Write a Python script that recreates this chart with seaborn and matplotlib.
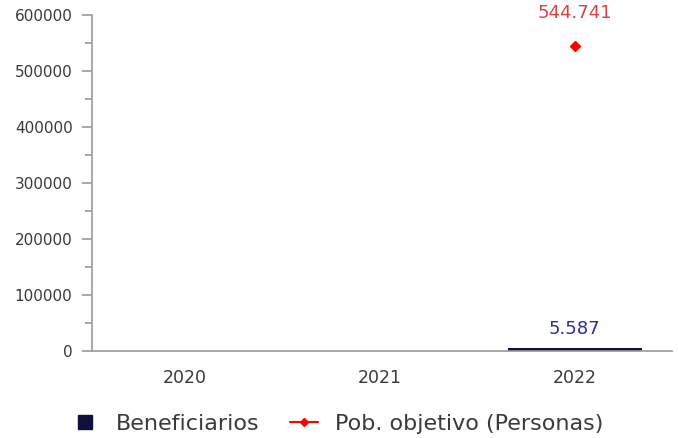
import matplotlib
matplotlib.use("Agg")
import matplotlib.pyplot as plt
import numpy as np
import pandas as pd
import seaborn as sns
from matplotlib.lines import Line2D
from matplotlib.ticker import MultipleLocator

years = ["2020", "2021", "2022"]
beneficiarios = [np.nan, np.nan, 5587]
pob_objetivo = [np.nan, np.nan, 544741]
benef_labels = ["", "", "5.587"]
pob_labels = ["", "", "544.741"]

NAVY = "#10103f"
RED = "#ff0000"
GRAY = "#9a9a9a"

sns.set_style("white")
plt.rcParams["font.family"] = ["DejaVu Sans"]

df = pd.DataFrame({"year": years, "benef": beneficiarios, "pob": pob_objetivo})

fig = plt.figure(figsize=(6.78, 4.38), dpi=100)
ax = fig.add_axes([0.1357, 0.1986, 0.855, 0.767])

sns.barplot(data=df, x="year", y="benef", color=NAVY, width=0.69, ax=ax,
            saturation=1, linewidth=0)
ax.plot(range(len(years)), df["pob"], color=RED, marker="D", markersize=5,
        linestyle="-", linewidth=1.5)

for i, (b, lab) in enumerate(zip(beneficiarios, benef_labels)):
    if lab:
        ax.annotate(lab, (i, b), xytext=(0, 7), textcoords="offset points",
                    ha="center", va="bottom", color="#2b2b9b", fontsize=13)
for i, (p, lab) in enumerate(zip(pob_objetivo, pob_labels)):
    if lab:
        ax.annotate(lab, (i, p), xytext=(0, 17), textcoords="offset points",
                    ha="center", va="bottom", color="#d24545", fontsize=13)

ax.set_xlim(-0.477, 2.497)
ax.set_ylim(0, 600000)
ax.yaxis.set_major_locator(MultipleLocator(100000))
ax.yaxis.set_minor_locator(MultipleLocator(50000))
ax.set_xlabel("")
ax.set_ylabel("")

for s in ["top", "right"]:
    ax.spines[s].set_visible(False)
for s in ["left", "bottom"]:
    ax.spines[s].set_color(GRAY)
    ax.spines[s].set_linewidth(1.2)

ax.tick_params(axis="y", which="major", length=7.5, width=1.2, color=GRAY,
               labelsize=11, labelcolor="#3a3a3a", left=True, pad=6.5)
ax.tick_params(axis="y", which="minor", length=4.8, width=1.2, color=GRAY,
               left=True)
ax.tick_params(axis="x", length=0, labelsize=12.5, labelcolor="#3a3a3a", pad=13)

handles = [
    Line2D([], [], marker="s", color=NAVY, linestyle="none", markersize=10),
    Line2D([], [], marker="D", color=RED, markersize=4.5, linewidth=1.5),
]
fig.legend(handles, ["Beneficiarios", "Pob. objetivo (Personas)"],
           loc="center", bbox_to_anchor=(0.497, 0.032), ncol=2, frameon=False,
           fontsize=16, handlelength=1.3, columnspacing=1.35, handletextpad=0.75,
           labelcolor="#3a3a3a")

fig.savefig("out.png", dpi=100)
